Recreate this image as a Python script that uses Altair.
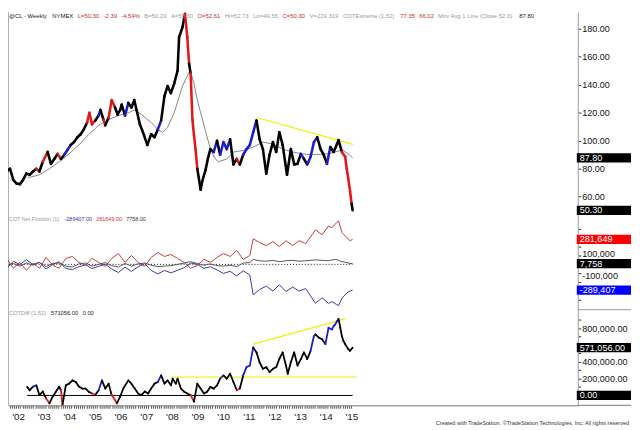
import json
import altair as alt
import pandas as pd

FONT = "Liberation Sans"

# ---------------- values ----------------
# @CL weekly (back-adjusted) closes, decimal years
PRICE_T = [2001.30, 2001.55, 2001.68, 2001.81, 2001.94, 2002.07, 2002.19, 2002.32, 2002.45, 2002.58,
           2002.71, 2002.83, 2002.96, 2003.15, 2003.28, 2003.41, 2003.54, 2003.67, 2003.80, 2003.92,
           2004.05, 2004.18, 2004.31, 2004.44, 2004.56, 2004.69, 2004.78, 2004.88, 2005.01, 2005.14,
           2005.21, 2005.33, 2005.40, 2005.53, 2005.65, 2005.78, 2005.88, 2005.98, 2006.04, 2006.17,
           2006.30, 2006.42, 2006.53, 2006.62, 2006.75, 2006.87, 2007.04, 2007.19, 2007.32, 2007.45,
           2007.58, 2007.71, 2007.83, 2007.96, 2008.09, 2008.22, 2008.28, 2008.41, 2008.51, 2008.60,
           2008.67, 2008.73, 2008.80, 2008.86, 2008.92, 2008.99, 2009.12, 2009.18, 2009.31, 2009.40,
           2009.50, 2009.63, 2009.76, 2009.88, 2010.01, 2010.14, 2010.27, 2010.40, 2010.53, 2010.65,
           2010.78, 2010.91, 2011.04, 2011.17, 2011.30, 2011.42, 2011.55, 2011.68, 2011.81, 2011.94,
           2012.07, 2012.19, 2012.32, 2012.49, 2012.64, 2012.77, 2012.90, 2013.03, 2013.15, 2013.28,
           2013.41, 2013.54, 2013.67, 2013.80, 2013.92, 2014.05, 2014.18, 2014.31, 2014.44, 2014.50,
           2014.63, 2014.76, 2014.82, 2014.88, 2014.95, 2015.01, 2015.05]
PRICE_V = [79.3, 78, 80, 72, 69.4, 69, 72, 76.5, 75.7, 78,
           80, 78, 85, 92, 83.5, 87, 90.6, 87, 90, 93.4,
           97, 99, 102.5, 104.6, 108, 113, 120, 111.7, 114.5, 118,
           122, 115, 111, 116.6, 129, 123.7, 118.7, 122, 125.8, 118,
           127, 123.7, 129, 122, 111.7, 106, 97, 104.6, 102.5, 108,
           114.5, 132, 139, 134, 141, 150, 174, 181, 190.6, 174,
           155, 148, 115, 104, 94, 80, 65, 71, 79, 87,
           94, 92, 100, 90, 99, 94, 101, 83, 87, 83,
           90, 94, 97, 106, 114.5, 101, 94, 76.5, 90, 99,
           92, 106, 97, 75.7, 94, 83, 83.5, 90.6, 87, 83,
           88.5, 99, 102.5, 94, 90, 83.5, 95.5, 92, 97.6, 100.4,
           92, 88.5, 80, 73, 64, 55, 50.3]
# bar colouring: k = normal, b = COT extreme high, r = COT extreme low
PRICE_C = list("k" * 11 + "r" + "k" + "r" + "kkk" + "r" + "k" + "bb" + "k" * 5 + "rrr" + "k" + "b" + "k"
               + "r" + "k" + "rr" + "k" * 4 + "b" + "k" * 9 + "b" + "k" * 8 + "rr" + "k" + "rrrr" + "k" * 6
               + "b" + "k" + "bbb" + "kk" + "r" + "k" + "bbbb" + "k" * 13 + "b" + "k" + "bbb" + "kkk" + "b"
               + "k" * 4 + "r" * 5 + "k")

MA_T = [2002.38, 2002.58, 2002.83, 2003.22, 2003.60, 2003.99, 2004.37, 2004.76, 2005.14, 2005.53,
        2005.91, 2006.30, 2006.55, 2006.81, 2007.19, 2007.45, 2007.64, 2007.83, 2008.09, 2008.41,
        2008.71, 2008.86, 2008.99, 2009.25, 2009.50, 2009.69, 2009.82, 2010.14, 2010.40, 2010.78,
        2011.17, 2011.55, 2011.94, 2012.32, 2012.71, 2013.09, 2013.47, 2014.11, 2014.63, 2014.88, 2015.05]
MA_V = [73.7, 74.4, 75.7, 80, 85, 90.6, 97, 104.6, 111, 115,
        118, 120, 122, 118.7, 113, 108, 106, 109.6, 120, 139,
        150.4, 141, 129, 111, 94, 87, 85, 87, 92, 93,
        95.5, 99, 97.6, 94, 92, 90.6, 90, 90.6, 93.4, 90.6, 87.8]

TREND_T = [2011.30, 2015.06]
TREND_V = [116.6, 97.4]

# COT net positions (thousands of contracts)
COT_T = [2001.30, 2001.55, 2001.81, 2002.07, 2002.32, 2002.58, 2002.83, 2003.09, 2003.35, 2003.60,
         2003.86, 2004.12, 2004.37, 2004.63, 2004.88, 2005.14, 2005.40, 2005.65, 2005.91, 2006.17,
         2006.42, 2006.68, 2006.94, 2007.19, 2007.45, 2007.71, 2007.96, 2008.22, 2008.48, 2008.73,
         2008.99, 2009.25, 2009.50, 2009.76, 2010.01, 2010.27, 2010.53, 2010.78, 2011.04, 2011.17,
         2011.42, 2011.68, 2011.94, 2012.19, 2012.45, 2012.71, 2012.96, 2013.22, 2013.60, 2013.86,
         2014.11, 2014.24, 2014.41, 2014.50, 2014.64, 2014.83, 2014.95, 2015.05]
COT_SPEC_K = [11, 67, -44, 22, -67, 11, -44, 78, -11, -44,
              67, 89, 22, -11, 67, 22, -22, 67, 122, 22,
              100, 22, -22, 78, 133, 89, 111, 67, 22, -44,
              -11, 56, 22, 78, 122, 89, 156, 56, 100, 289,
              244, 211, 256, 200, 267, 211, 267, 233, 389, 333,
              433, 411, 467, 489, 356, 300, 267, 281.649]
COT_SMALL_K = [5, -15, 10, -20, 15, -10, 20, -25, 10, 15,
               -20, -30, 5, 15, -20, 0, 20, -15, -30, 10,
               -20, 5, 15, -10, -25, -20, -15, 0, 15, 30,
               10, -10, 5, -15, -20, -10, -25, 15, 20, 55,
               40, 35, 45, 30, 40, 45, 35, 40, 50, 45,
               40, 50, 55, 45, 30, 20, 10, 7.758]
COT_COMM_K = [-16, -52, 34, -2, 52, -1, 24, -53, 1, 29,
              -47, -59, -27, -4, -47, -22, 2, -52, -92, -32,
              -80, -27, 7, -68, -108, -69, -96, -67, -37, 14,
              1, -46, -27, -63, -102, -79, -131, -71, -120, -344,
              -284, -246, -301, -230, -307, -256, -302, -273, -439, -378,
              -440, -420, -450, -465, -380, -320, -300, -289.407]

# COTDiff (1,52) (thousands)
DIFF_T = [2002.35, 2002.45, 2002.58, 2002.71, 2002.83, 2002.96, 2003.09, 2003.22, 2003.35, 2003.48,
          2003.60, 2003.67, 2003.73, 2003.86, 2003.99, 2004.12, 2004.25, 2004.37, 2004.50, 2004.63,
          2004.76, 2004.88, 2005.01, 2005.14, 2005.27, 2005.40, 2005.53, 2005.65, 2005.78, 2005.85,
          2005.98, 2006.10, 2006.30, 2006.42, 2006.55, 2006.68, 2006.81, 2006.94, 2007.07, 2007.19,
          2007.32, 2007.45, 2007.58, 2007.71, 2007.83, 2007.96, 2008.03, 2008.15, 2008.22, 2008.35,
          2008.48, 2008.60, 2008.73, 2008.86, 2008.99, 2009.12, 2009.25, 2009.37, 2009.50, 2009.63,
          2009.76, 2009.88, 2010.01, 2010.14, 2010.27, 2010.40, 2010.53, 2010.65, 2010.78, 2010.91,
          2011.04, 2011.17, 2011.30, 2011.42, 2011.55, 2011.68, 2011.81, 2011.94, 2012.07, 2012.19,
          2012.32, 2012.45, 2012.52, 2012.64, 2012.77, 2012.90, 2013.03, 2013.15, 2013.28, 2013.41,
          2013.54, 2013.60, 2013.73, 2013.86, 2013.99, 2014.11, 2014.24, 2014.31, 2014.37, 2014.44,
          2014.50, 2014.57, 2014.63, 2014.69, 2014.76, 2014.88, 2014.95, 2015.05]
DIFF_K = [102, 62, 106, 121, 4, 47, -35, -94, -12, 47,
          106, 62, -114, 121, 141, 180, 161, 106, 82, 82,
          44, 24, 4, 62, 180, 82, 141, 4, -55, -94,
          -15, 82, 180, 141, 82, 24, 4, 47, 24, 82,
          141, 161, 239, 141, 180, 121, 200, 141, 200, 82,
          44, 24, 4, -74, 141, 82, 24, 44, 102, 82,
          121, 200, 239, 200, 259, 161, 62, 82, 239, 338,
          357, 573, 514, 396, 318, 338, 279, 318, 338, 435,
          514, 357, 259, 396, 514, 357, 435, 514, 435, 533,
          709, 729, 690, 671, 612, 808, 788, 827, 847, 886,
          914, 808, 709, 651, 612, 553, 533, 571.056]
DIFF_C = list("kkk" + "b" + "kkk" + "r" + "kkkk" + "r" + "k" * 9 + "r" + "k" + "b" + "kkk" + "rr"
              + "k" * 12 + "b" + "k" * 10 + "r" + "k" * 8 + "b" + "kkkk" + "r" + "k" + "bbb" + "k" * 18
              + "bb" + "kkk" + "b" * 6 + "k" * 7)
DIFF_RISE_T = [2011.17, 2014.76]
DIFF_RISE_K = [612, 914]
DIFF_FLAT_T = [2007.96, 2015.21]
DIFF_FLAT_K = [220, 220]
DIFF_ZERO_T = [2002.35, 2015.05]

YEARS = list(range(2002, 2016))
YEAR_LABELS = ["'02", "'03", "'04", "'05", "'06", "'07", "'08", "'09", "'10", "'11", "'12", "'13", "'14", "'15"]
PRICE_TICKS = [60, 80, 100, 120, 140, 160, 180]
COT_TICKS = [-400000, -300000, -200000, -100000, 0, 100000, 200000, 300000, 400000]
COT_TICK_LABELS = ["", "", "", "-100,000", "", "100,000", "", "", ""]
DIFF_TICKS = [0, 100000, 200000, 300000, 400000, 500000, 600000, 700000, 800000, 900000]
DIFF_TICK_LABELS = ["", "", "200,000.00", "", "400,000.00", "", "", "", "800,000.00", ""]

RED, GREY, DARK = "#cc2a2a", "#9a9a9a", "#222222"
HEADER = [("@CL - Weekly", DARK), ("NYMEX", DARK), ("L=50.30", RED), ("-2.39", RED),
          ("-4.54%", RED), ("B=50.29", GREY), ("A=50.30", GREY), ("O=52.61", RED),
          ("Hi=52.73", GREY), ("Lo=49.55", GREY), ("C=50.30", RED), ("V=229,319", GREY),
          ("COTExtreme (1,52)", GREY), ("77.35", RED), ("66.02", RED),
          ("Mov Avg 1 Line (Close,52,0)", GREY), ("87.80", DARK)]
COT_TITLE = [("COT Net Position (1)", GREY), ("-289407.00", "#3535a5"), ("281649.00", "#c83535"),
             ("7758.00", "#333333")]
DIFF_TITLE = [("COTDiff (1,52)", GREY), ("571056.00", DARK), ("0.00", DARK)]
FOOTER = "Created with TradeStation. \u00a9TradeStation Technologies, Inc. All rights reserved"

# ---------------- layout ----------------
W, H1, H2, H3 = 578, 208, 94, 97
X_DOMAIN = [2001.604, 2023.835]
P_DOMAIN = [45.49, 191.97]
C_DOMAIN = [-511111, 533333]
D_DOMAIN = [-117647, 1023529]
BOX_SHAPE = "M-1,-0.17H1V0.17H-1Z"
BOX_SIZE = 55 * 55
BOX_X, BOX_TX = 604.5, 580

# Arial-metric advance widths (em) for laying out the small header texts
EM = {".": .278, ",": .278, "-": .333, "=": .584, "%": .889, "(": .333, ")": .333, " ": .278,
      "@": 1.015, "A": .667, "B": .667, "C": .722, "D": .722, "E": .667, "H": .722, "L": .556,
      "M": .833, "N": .722, "O": .778, "P": .667, "T": .611, "V": .667, "W": .944, "X": .667,
      "Y": .667, "c": .5, "f": .278, "i": .222, "k": .5, "l": .222, "m": .833, "r": .333, "s": .5,
      "t": .278, "v": .5, "x": .5, "y": .5}


def text_w(s, size):
    return sum(EM.get(ch, .556) for ch in s) * size * 1.04


one = pd.DataFrame({"a": [0]})
xs = alt.Scale(domain=X_DOMAIN, nice=False, zero=False)
X_NOAX = alt.X("t:Q", scale=xs, axis=None)


def yaxis(values, label_expr=None, fmt=None, label_offset=None):
    kw = dict(orient="right", values=values, title=None, tickSize=3, tickColor="#333333",
              domainColor="#9a9a9a", labelFont=FONT, labelFontSize=9.2, labelColor="#111111",
              labelPadding=1, labelOverlap=False, labelFlush=False, grid=False)
    if label_expr:
        kw["labelExpr"] = label_expr
    if fmt:
        kw["format"] = fmt
    if label_offset is not None:
        kw["labelOffset"] = label_offset
    return alt.Axis(**kw)


def lookup_expr(vals, labs):
    v, l = json.dumps(vals), json.dumps(labs)
    return f"indexof({v}, datum.value) >= 0 ? {l}[indexof({v}, datum.value)] : ''"


SEGCOL = alt.Color("c:N", scale=alt.Scale(domain=["k", "b", "r"], range=["#000000", "#1c1cd0", "#e01a1a"]),
                   legend=None)


def seg_df(t, v, c):
    return pd.DataFrame({"t": t[:-1], "v": v[:-1], "t2": t[1:], "v2": v[1:], "c": c[1:]})


def value_box(value, label, fill, Y):
    d = pd.DataFrame({"v": [value], "lab": [label]})
    box = alt.Chart(d).mark_point(shape=BOX_SHAPE, filled=True, size=BOX_SIZE, color=fill, opacity=1,
                                  strokeWidth=0, clip=False).encode(x=alt.value(BOX_X), y=Y)
    txt = alt.Chart(d).mark_text(align="left", baseline="middle", font=FONT, fontSize=9.2, color="white",
                                 clip=False).encode(x=alt.value(BOX_TX), y=Y, text="lab:N")
    return [box, txt]


def text_run(items, y, size, gap, x0=1.0):
    out, x = [], x0
    for s, col in items:
        out.append(alt.Chart(one).mark_text(align="left", baseline="middle", font=FONT, fontSize=size,
                                            color=col).encode(x=alt.value(x), y=alt.value(y),
                                                              text=alt.value(s)))
        x += text_w(s, size) + gap
    return out


def left_border(h):
    return alt.Chart(one).mark_rule(color="#b0b0b0", strokeWidth=1).encode(
        x=alt.value(0.5), y=alt.value(0), y2=alt.value(h))


# ---------------- panel 1: price ----------------
Y1 = alt.Y("v:Q", scale=alt.Scale(domain=P_DOMAIN, nice=False, zero=False),
           axis=yaxis(PRICE_TICKS, fmt=".2f"))
price = alt.Chart(seg_df(PRICE_T, PRICE_V, PRICE_C)).mark_rule(
    strokeWidth=2.6, strokeCap="round", clip=True).encode(x=X_NOAX, x2="t2:Q", y=Y1, y2="v2:Q", color=SEGCOL)
ma = alt.Chart(pd.DataFrame({"t": MA_T, "v": MA_V})).mark_line(
    color="#858585", strokeWidth=1, clip=True).encode(x=X_NOAX, y=Y1)
trend = alt.Chart(pd.DataFrame({"t": TREND_T, "v": TREND_V})).mark_line(
    color="#f0f000", strokeWidth=1.2, clip=True).encode(x=X_NOAX, y=Y1)
p1_layers = [left_border(H1), ma, trend, price]
p1_layers += value_box(87.80, "87.80", "#000000", Y1)
p1_layers += value_box(50.30, "50.30", "#000000", Y1)
p1_layers += text_run(HEADER, 4, 6.0, 3.6)
p1 = alt.layer(*p1_layers).properties(width=W, height=H1)

# ---------------- panel 2: COT net position ----------------
cot_offset = {"condition": [{"test": "datum.value == 100000", "value": -2},
                            {"test": "datum.value == -100000", "value": 2}], "value": 0}
Y2 = alt.Y("v:Q", scale=alt.Scale(domain=C_DOMAIN, nice=False, zero=False),
           axis=yaxis(COT_TICKS, label_expr=lookup_expr(COT_TICKS, COT_TICK_LABELS), label_offset=cot_offset))


def cot_line(vals_k, col):
    d = pd.DataFrame({"t": COT_T, "v": [k * 1000 for k in vals_k]})
    return alt.Chart(d).mark_line(color=col, strokeWidth=1, clip=True).encode(x=X_NOAX, y=Y2)


zero2 = alt.Chart(pd.DataFrame({"t": [COT_T[0]], "t2": [COT_T[-1]], "v": [0]})).mark_rule(
    color="#111111", strokeWidth=1, strokeDash=[1, 2], clip=True).encode(x=X_NOAX, x2="t2:Q", y=Y2)
p2_layers = [left_border(H2), zero2,
             cot_line(COT_SPEC_K, "#c83c3c"), cot_line(COT_COMM_K, "#3a3aa8"), cot_line(COT_SMALL_K, "#555555")]
p2_layers += value_box(281649, "281,649", "#ff0000", Y2)
p2_layers += value_box(7758, "7,758", "#000000", Y2)
p2_layers += value_box(-289407, "-289,407", "#0000ff", Y2)
p2_layers += text_run(COT_TITLE, 2, 5.5, 3.3)
p2 = alt.layer(*p2_layers).properties(width=W, height=H2)

# ---------------- panel 3: COTDiff ----------------
month_ticks = [round(y + m / 12, 4) for y in range(2001, 2016) for m in range(12)]
month_ticks = [m for m in month_ticks if 2001.62 <= m <= 2015.06]
XAX = alt.X("t:Q", scale=xs, axis=alt.Axis(
    orient="bottom", values=month_ticks, labelExpr=lookup_expr(YEARS, YEAR_LABELS), title=None,
    tickSize=3, tickColor="#555555", domainColor="#777777", labelFont=FONT, labelFontSize=10,
    labelColor="#222222", labelPadding=3, labelOverlap=False, labelFlush=False, grid=False))
Y3 = alt.Y("v:Q", scale=alt.Scale(domain=D_DOMAIN, nice=False, zero=False),
           axis=yaxis(DIFF_TICKS, label_expr=lookup_expr(DIFF_TICKS, DIFF_TICK_LABELS)))

diff_seg = seg_df(DIFF_T, [k * 1000 for k in DIFF_K], DIFF_C)
diff = alt.Chart(diff_seg).mark_rule(strokeWidth=1.8, strokeCap="round", clip=True).encode(
    x=XAX, x2="t2:Q", y=Y3, y2="v2:Q", color=SEGCOL)
zero3 = alt.Chart(pd.DataFrame({"t": [DIFF_ZERO_T[0]], "t2": [DIFF_ZERO_T[1]], "v": [0]})).mark_rule(
    color="#000000", strokeWidth=1, clip=True).encode(x=XAX, x2="t2:Q", y=Y3)
rise = alt.Chart(pd.DataFrame({"t": DIFF_RISE_T, "v": [k * 1000 for k in DIFF_RISE_K]})).mark_line(
    color="#f0f000", strokeWidth=1.2, clip=True).encode(x=XAX, y=Y3)
flat = alt.Chart(pd.DataFrame({"t": DIFF_FLAT_T, "v": [k * 1000 for k in DIFF_FLAT_K]})).mark_line(
    color="#f0f000", strokeWidth=1.2, clip=True).encode(x=XAX, y=Y3)
sep = alt.Chart(one).mark_rule(color="#9a9a9a", strokeWidth=1).encode(
    x=alt.value(W), x2=alt.value(632), y=alt.value(0))
bottom_ext = alt.Chart(one).mark_rule(color="#777777", strokeWidth=1).encode(
    x=alt.value(W), x2=alt.value(632), y=alt.value(H3))
footer = alt.Chart(one).mark_text(align="right", baseline="middle", font=FONT, fontSize=5.6,
                                  color="#333333").encode(x=alt.value(630), y=alt.value(H3 + 18),
                                                          text=alt.value(FOOTER))
p3_layers = [left_border(H3), sep, bottom_ext, zero3, flat, rise, diff]
p3_layers += value_box(571056, "571,056.00", "#000000", Y3)
p3_layers += value_box(0, "0.00", "#000000", Y3)
p3_layers += text_run(DIFF_TITLE, 3, 5.8, 3.5)
p3_layers += [footer]
p3 = alt.layer(*p3_layers).properties(width=W, height=H3)

chart = alt.vconcat(p1, p2, p3, spacing=0, bounds="flush").resolve_scale(
    color="independent", y="independent").properties(padding=0).configure_view(stroke=None)

chart.save("out.html", embed_options={"renderer": "svg", "actions": False})
